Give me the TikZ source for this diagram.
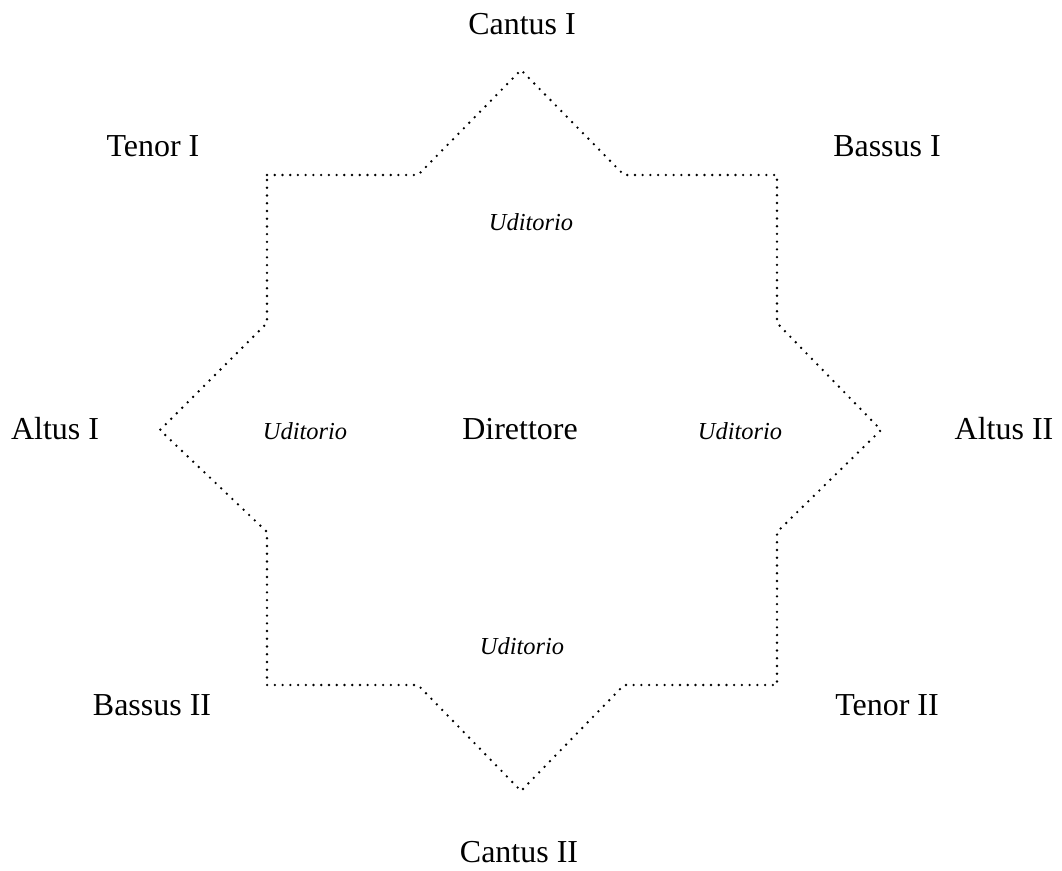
\documentclass[tikz,border=0pt]{standalone}
\usepackage{fontspec}
\setmainfont{Liberation Serif}
\usepackage{tikz}
\usetikzlibrary{positioning}
\tikzset{
	voice/.style={anchor=base, inner sep=0pt, font=\fontsize{18.2}{20}\selectfont},
	hall/.style={anchor=base, inner sep=0pt, font=\fontsize{13.9}{16}\selectfont\itshape},
	border/.style={draw, line width=1.5pt, line cap=round, dash pattern=on 0pt off 4.4pt}
}

\begin{document}
\begin{tikzpicture}[x=0.02cm, y=-0.02cm]
	\useasboundingbox (0,0) rectangle (1062,871);
	
	% Outline of the hall (square with four points)
	\draw[border] (267,175) -- (418,175) -- (521,70) -- (624,175) -- (777,175)
		-- (777,323) -- (881,430) -- (777,532) -- (777,685)
		-- (624,685) -- (521,791) -- (418,685) -- (267,685)
		-- (267,532) -- (160,430) -- (267,323) -- cycle;
	
	% Voices round the hall
	\node[voice] (cantusI) at (522,35) {Cantus I};
	\node[voice] (tenorI) at (153,157) {Tenor I};
	\node[voice] (bassusI) at (887,157) {Bassus I};
	\node[voice] (altusI) at (55,440) {Altus I};
	\node[voice] (altusII) at (1004,440) {Altus II};
	\node[voice] (bassusII) at (152,715) {Bassus II};
	\node[voice] (tenorII) at (887,715) {Tenor II};
	\node[voice] (cantusII) at (519,862) {Cantus II};
	
	% Centre and audience
	\node[voice] (direttore) at (520,440) {Direttore};
	\node[hall] (uditN) at (531,231) {Uditorio};
	\node[hall] (uditW) at (305,440) {Uditorio};
	\node[hall] (uditE) at (740,440) {Uditorio};
	\node[hall] (uditS) at (522,654) {Uditorio};
\end{tikzpicture}
\end{document}
